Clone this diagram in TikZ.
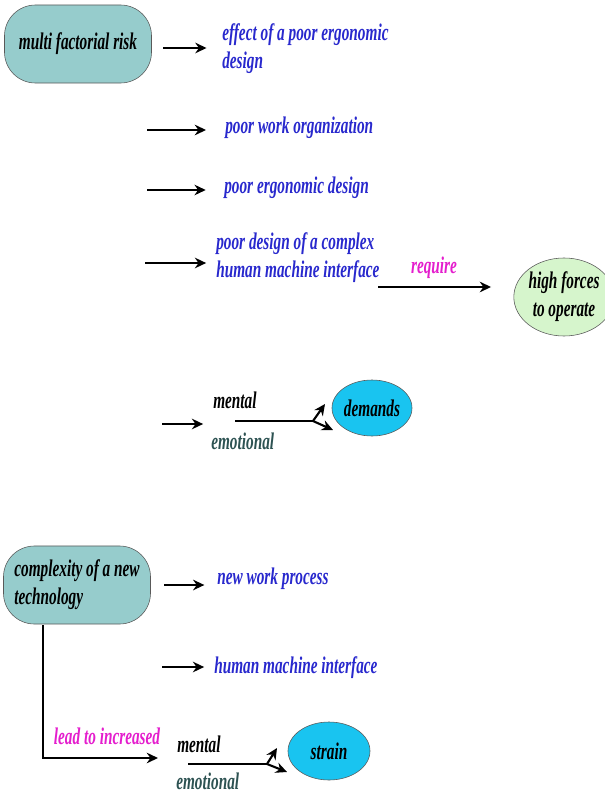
\documentclass[tikz,border=0pt]{standalone}
\usepackage{fontspec}
\setmainfont{Liberation Serif}[FakeStretch=0.64]
\usetikzlibrary{arrows.meta, shapes.geometric, positioning}
\definecolor{RiskTeal}{RGB}{150,204,204}
\definecolor{ForceGreen}{RGB}{214,245,204}
\definecolor{DemandCyan}{RGB}{25,196,240}
\definecolor{CauseBlue}{RGB}{40,40,205}
\definecolor{LinkMagenta}{RGB}{228,30,205}
\definecolor{EmoSlate}{RGB}{45,82,82}
\tikzset{
  lbl/.style={font=\fontsize{17}{20}\selectfont\bfseries\itshape, inner sep=0pt, align=left},
  cause/.style={lbl, text=CauseBlue, anchor=west},
  rootbox/.style={lbl, draw=black!65, fill=RiskTeal, rounded corners=22pt,
                  minimum width=3.675cm, minimum height=1.95cm},
  blob/.style={lbl, ellipse, draw=black!65, align=center},
  arr/.style={-{Stealth[length=8pt,width=7.5pt]}, line width=1.5pt},
}
\begin{document}
\begin{tikzpicture}[x=0.025cm, y=-0.025cm]
    \useasboundingbox (0,0) rectangle (604,794);

    % Risiko multifattoriale
    \begin{scope}
        \node[rootbox] (risk) at (78,44) {multi factorial risk};
        \node[cause] (effect) at (222,49) {effect of a poor ergonomic\\design};
        \node[cause] (pwork) at (225,128) {poor work organization};
        \node[cause] (pergo) at (224,188) {poor ergonomic design};
        \node[cause] (pdes) at (216,258) {poor design of a complex\\human machine interface};
        \node[lbl, text=LinkMagenta] (req) at (434,268) {require};
        \node[blob, fill=ForceGreen, minimum width=2.1cm, minimum height=1.95cm] (forces) at (564,297) {high forces\\to operate};

        \coordinate (s1) at (163,48);
        \coordinate (s2) at (147,130);
        \coordinate (s3) at (147,190);
        \coordinate (s4) at (145,263);
        \coordinate (s5) at (378,287);
        \draw[arr, shorten >=11pt] (s1) -- (s1 -| effect.west);
        \draw[arr, shorten >=13.5pt] (s2) -- (s2 -| pwork.west);
        \draw[arr, shorten >=13pt] (s3) -- (s3 -| pergo.west);
        \draw[arr, shorten >=7pt] (s4) -- (s4 -| pdes.west);
        \draw[arr, shorten >=16pt] (s5) -- (s5 -| forces.west);
    \end{scope}

    % Richieste
    \begin{scope}
        \node[lbl, anchor=west] (ment1) at (213,400) {mental};
        \node[lbl, anchor=west, text=EmoSlate] (emo1) at (211,441) {emotional};
        \node[blob, fill=DemandCyan, minimum width=2cm, minimum height=1.4cm] (demands) at (372,408) {demands};
        \coordinate (d0) at (162,424);
        \coordinate (d1) at (235,421);
        \coordinate (fork1) at (313,421);
        \coordinate (up1) at (325,404);
        \coordinate (dn1) at (333,430);
        \draw[arr, shorten >=7pt] (d0) -- (d0 -| ment1.west);
        \draw[line width=1.5pt] (d1) -- (fork1);
        \draw[arr] (fork1) -- (up1);
        \draw[arr] (fork1) -- (dn1);
    \end{scope}

    % Nuova tecnologia
    \begin{scope}
        \node[rootbox] (tech) at (77,585) {complexity of a new\\technology};
        \node[cause] (nwp) at (217,579) {new work process};
        \node[cause] (hmi) at (214,668) {human machine interface};
        \node[lbl, text=LinkMagenta] (incr) at (107,736) {lead to increased};
        \node[lbl, anchor=west] (ment2) at (177,744) {mental};
        \node[lbl, anchor=west, text=EmoSlate] (emo2) at (176,781) {emotional};
        \node[blob, fill=DemandCyan, minimum width=2.05cm, minimum height=1.45cm] (strain) at (329,751) {strain};

        \coordinate (t1) at (164,585);
        \coordinate (t2) at (162,667);
        \coordinate (drop) at (43,625);
        \coordinate (lead) at (158,758);
        \coordinate (e1) at (188,764);
        \coordinate (fork2) at (267,764);
        \coordinate (up2) at (277,748);
        \coordinate (dn2) at (287,772);
        \draw[arr, shorten >=9pt] (t1) -- (t1 -| nwp.west);
        \draw[arr, shorten >=7pt] (t2) -- (t2 -| hmi.west);
        \draw[arr] (drop) |- (lead);
        \draw[line width=1.5pt] (e1) -- (fork2);
        \draw[arr] (fork2) -- (up2);
        \draw[arr] (fork2) -- (dn2);
    \end{scope}
\end{tikzpicture}
\end{document}
